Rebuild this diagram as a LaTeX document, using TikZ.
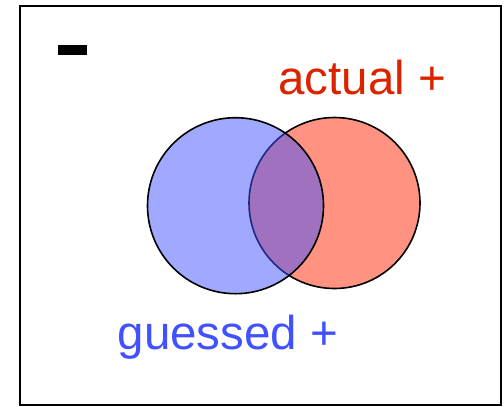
\documentclass[tikz,border=0pt]{standalone}
\usepackage{fontspec}
\setmainfont{Liberation Sans}
\definecolor{actred}{RGB}{220,35,0}
\definecolor{gsblue}{RGB}{65,81,255}
\definecolor{redfill}{RGB}{255,146,128}
\begin{document}
\begin{tikzpicture}[x=1bp,y=-1bp,
  setcircle/.style={circle,draw=black,line width=1.6bp,inner sep=0pt},
  label/.style={inner sep=0pt,anchor=base west,font=\fontsize{47.5bp}{57bp}\selectfont}]
\useasboundingbox (0,0) rectangle (504,406);
\node[draw=black,line width=2bp,minimum width=480.2bp,minimum height=398.8bp,inner sep=0pt,anchor=north west] (frame) at (19.3,5) {};
\node[fill=black,inner sep=0pt,minimum width=29.3bp,minimum height=9.7bp,anchor=north west] (minus) at (57.7,45) {};
\node[setcircle,fill=redfill,minimum size=171bp] (actual) at (334.5,203) {};
\node[setcircle,fill=gsblue,fill opacity=0.5,minimum size=176bp] (guessed) at (235.5,205.7) {};
\node[label,text=actred] (actlabel) at (278.2,94.5) {actual +};
\node[label,text=gsblue] (gslabel) at (117.5,349) {guessed +};
\end{tikzpicture}
\end{document}
